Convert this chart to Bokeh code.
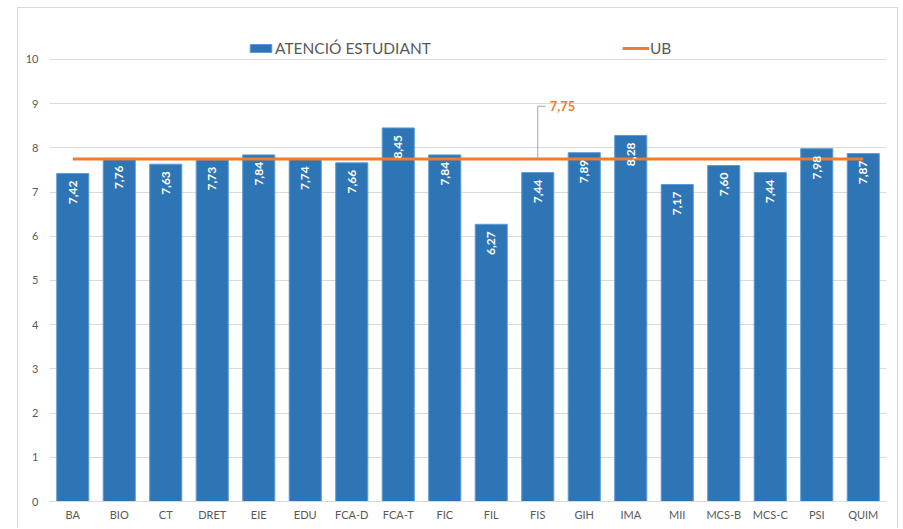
from math import pi
from bokeh.plotting import figure
from bokeh.models import Range1d, FixedTicker, Legend, LegendItem, Label, Spacer
from bokeh.layouts import row, column
from bokeh.core.properties import value
from bokeh.embed import file_html
from bokeh.resources import INLINE

categories = ["BA", "BIO", "CT", "DRET", "EIE", "EDU", "FCA-D", "FCA-T", "FIC", "FIL",
              "FIS", "GIH", "IMA", "MII", "MCS-B", "MCS-C", "PSI", "QUIM"]
values = [7.42, 7.76, 7.63, 7.73, 7.84, 7.74, 7.66, 8.45, 7.84, 6.27,
          7.44, 7.89, 8.28, 7.17, 7.60, 7.44, 7.98, 7.87]
ub_value = 7.75
ub_label = "7,75"
callout_category = "FIS"
y_ticks = list(range(0, 11))

FONT = "Lato"
GRAY = "#595959"
BLUE = "#2E75B6"
ORANGE = "#ED7D31"

idx = list(range(len(categories)))
labels = [f"{v:.2f}".replace(".", ",") for v in values]

p = figure(width=881, height=521, output_backend="svg", toolbar_location=None,
           x_range=Range1d(-0.5, len(categories) - 0.5), y_range=Range1d(0, 10.88),
           min_border_left=31, min_border_right=13, min_border_top=12, min_border_bottom=28)
p.styles = {"border-top": "1px solid #d9d9d9", "border-left": "1px solid #d9d9d9",
            "border-right": "1px solid #d9d9d9"}
p.outline_line_color = None
p.background_fill_color = "white"

bars = p.vbar(x=idx, top=values, width=0.69, fill_color=BLUE, line_color="#5B9BD5", line_width=1)
line = p.line(x=idx, y=[ub_value] * len(idx), line_color=ORANGE, line_width=3)

p.text(x=idx, y=values, text=labels, angle=pi / 2, text_align="right", text_baseline="middle",
       y_offset=7, text_color="white", text_font_size="12px", text_font_style="bold",
       text_font=value(FONT))

ci = categories.index(callout_category)
callout_y = 8.94
p.line(x=[ci, ci, ci + 0.17], y=[ub_value, callout_y, callout_y], line_color="#A6A6A6", line_width=1)
p.add_layout(Label(x=ci, y=callout_y, text=ub_label, x_offset=12, text_baseline="middle",
                   text_color=ORANGE, text_font_style="bold", text_font_size="13px", text_font=FONT))

legend = Legend(items=[LegendItem(label="ATENCIÓ ESTUDIANT", renderers=[bars]),
                       LegendItem(label="UB", renderers=[line])],
                orientation="horizontal", location=(198, 444), spacing=191,
                glyph_width=27, glyph_height=10, label_standoff=1,
                label_text_font_size="15.5px", label_text_color=GRAY, label_text_font=FONT,
                padding=0, margin=0, border_line_color=None, background_fill_alpha=0)
p.add_layout(legend)

p.xaxis.ticker = FixedTicker(ticks=idx)
p.xaxis.major_label_overrides = {i: c for i, c in zip(idx, categories)}
p.xaxis.axis_line_color = "#d9d9d9"
p.xaxis.major_label_standoff = 6
p.yaxis.ticker = FixedTicker(ticks=y_ticks)
p.yaxis.axis_line_color = None
p.yaxis.major_label_standoff = 11
for ax in (p.xaxis, p.yaxis):
    ax.major_tick_line_color = None
    ax.minor_tick_line_color = None
    ax.major_tick_out = 0
    ax.major_tick_in = 0
    ax.minor_tick_out = 0
    ax.minor_tick_in = 0
    ax.major_label_text_font_size = "11px"
    ax.major_label_text_color = GRAY
    ax.major_label_text_font = FONT
p.xgrid.grid_line_color = None
p.ygrid.grid_line_color = "#d9d9d9"

layout = column(Spacer(width=10, height=7), row(Spacer(width=17, height=10), p))
open("out.html", "w").write(file_html(layout, INLINE))
